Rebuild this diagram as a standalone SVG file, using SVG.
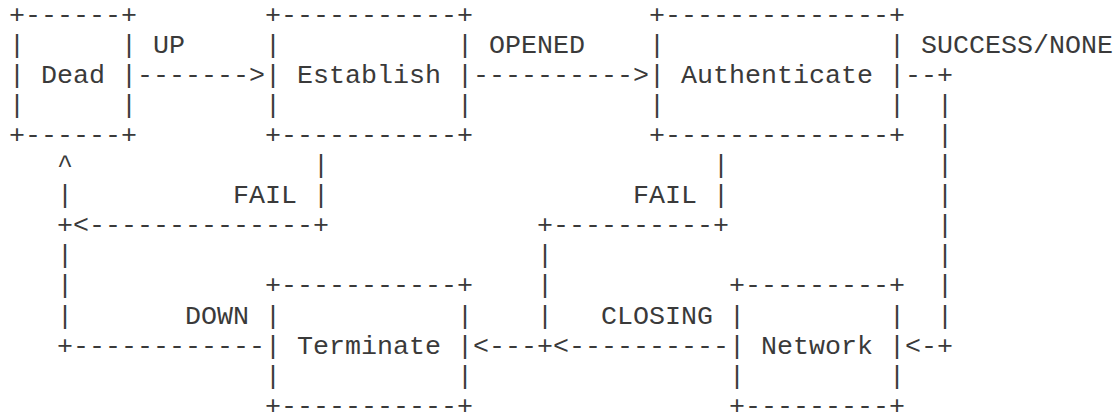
<svg xmlns="http://www.w3.org/2000/svg" width="1117" height="417" viewBox="0 0 1117 417">
<style>
text { font-family: "Liberation Mono", "DejaVu Sans Mono", monospace; font-size: 26.667px; fill: #3a3a3a; white-space: pre; }
</style>
<rect width="1117" height="417" fill="#fff"/>
<g id="node-dead">
<text x="9" y="22.5" xml:space="preserve">+------+</text>
<text x="9" y="52.6" xml:space="preserve">|      |</text>
<text x="9" y="82.7" xml:space="preserve">| Dead |</text>
<text x="9" y="112.8" xml:space="preserve">|      |</text>
<text x="9" y="142.9" xml:space="preserve">+------+</text>
</g>
<g id="node-establish">
<text x="265" y="22.5" xml:space="preserve">+-----------+</text>
<text x="265" y="52.6" xml:space="preserve">|           |</text>
<text x="265" y="82.7" xml:space="preserve">| Establish |</text>
<text x="265" y="112.8" xml:space="preserve">|           |</text>
<text x="265" y="142.9" xml:space="preserve">+-----------+</text>
</g>
<g id="node-authenticate">
<text x="649" y="22.5" xml:space="preserve">+--------------+</text>
<text x="649" y="52.6" xml:space="preserve">|              |</text>
<text x="649" y="82.7" xml:space="preserve">| Authenticate |</text>
<text x="649" y="112.8" xml:space="preserve">|              |</text>
<text x="649" y="142.9" xml:space="preserve">+--------------+</text>
</g>
<g id="node-terminate">
<text x="265" y="293.4" xml:space="preserve">+-----------+</text>
<text x="265" y="323.5" xml:space="preserve">|           |</text>
<text x="265" y="353.6" xml:space="preserve">| Terminate |</text>
<text x="265" y="383.7" xml:space="preserve">|           |</text>
<text x="265" y="413.8" xml:space="preserve">+-----------+</text>
</g>
<g id="node-network">
<text x="729" y="293.4" xml:space="preserve">+---------+</text>
<text x="729" y="323.5" xml:space="preserve">|         |</text>
<text x="729" y="353.6" xml:space="preserve">| Network |</text>
<text x="729" y="383.7" xml:space="preserve">|         |</text>
<text x="729" y="413.8" xml:space="preserve">+---------+</text>
</g>
<g id="connectors">
<text x="153" y="52.6">UP</text>
<text x="489" y="52.6">OPENED</text>
<text x="921" y="52.6">SUCCESS/NONE</text>
<text x="137" y="82.7" xml:space="preserve">-------&gt;</text>
<text x="473" y="82.7" xml:space="preserve">----------&gt;</text>
<text x="905" y="82.7" xml:space="preserve">--+</text>
<text x="937" y="112.8">|</text>
<text x="937" y="142.9">|</text>
<text x="57" y="173">^</text>
<text x="313" y="173">|</text>
<text x="713" y="173">|</text>
<text x="937" y="173">|</text>
<text x="57" y="203.1">|</text>
<text x="233" y="203.1" xml:space="preserve">FAIL |</text>
<text x="633" y="203.1" xml:space="preserve">FAIL |</text>
<text x="937" y="203.1">|</text>
<text x="57" y="233.2" xml:space="preserve">+&lt;--------------+</text>
<text x="537" y="233.2" xml:space="preserve">+----------+</text>
<text x="937" y="233.2">|</text>
<text x="57" y="263.3">|</text>
<text x="537" y="263.3">|</text>
<text x="937" y="263.3">|</text>
<text x="57" y="293.4">|</text>
<text x="537" y="293.4">|</text>
<text x="937" y="293.4">|</text>
<text x="57" y="323.5">|</text>
<text x="185" y="323.5">DOWN</text>
<text x="537" y="323.5">|</text>
<text x="601" y="323.5">CLOSING</text>
<text x="937" y="323.5">|</text>
<text x="57" y="353.6" xml:space="preserve">+------------</text>
<text x="473" y="353.6" xml:space="preserve">&lt;---+&lt;----------</text>
<text x="905" y="353.6" xml:space="preserve">&lt;-+</text>
</g>
</svg>
